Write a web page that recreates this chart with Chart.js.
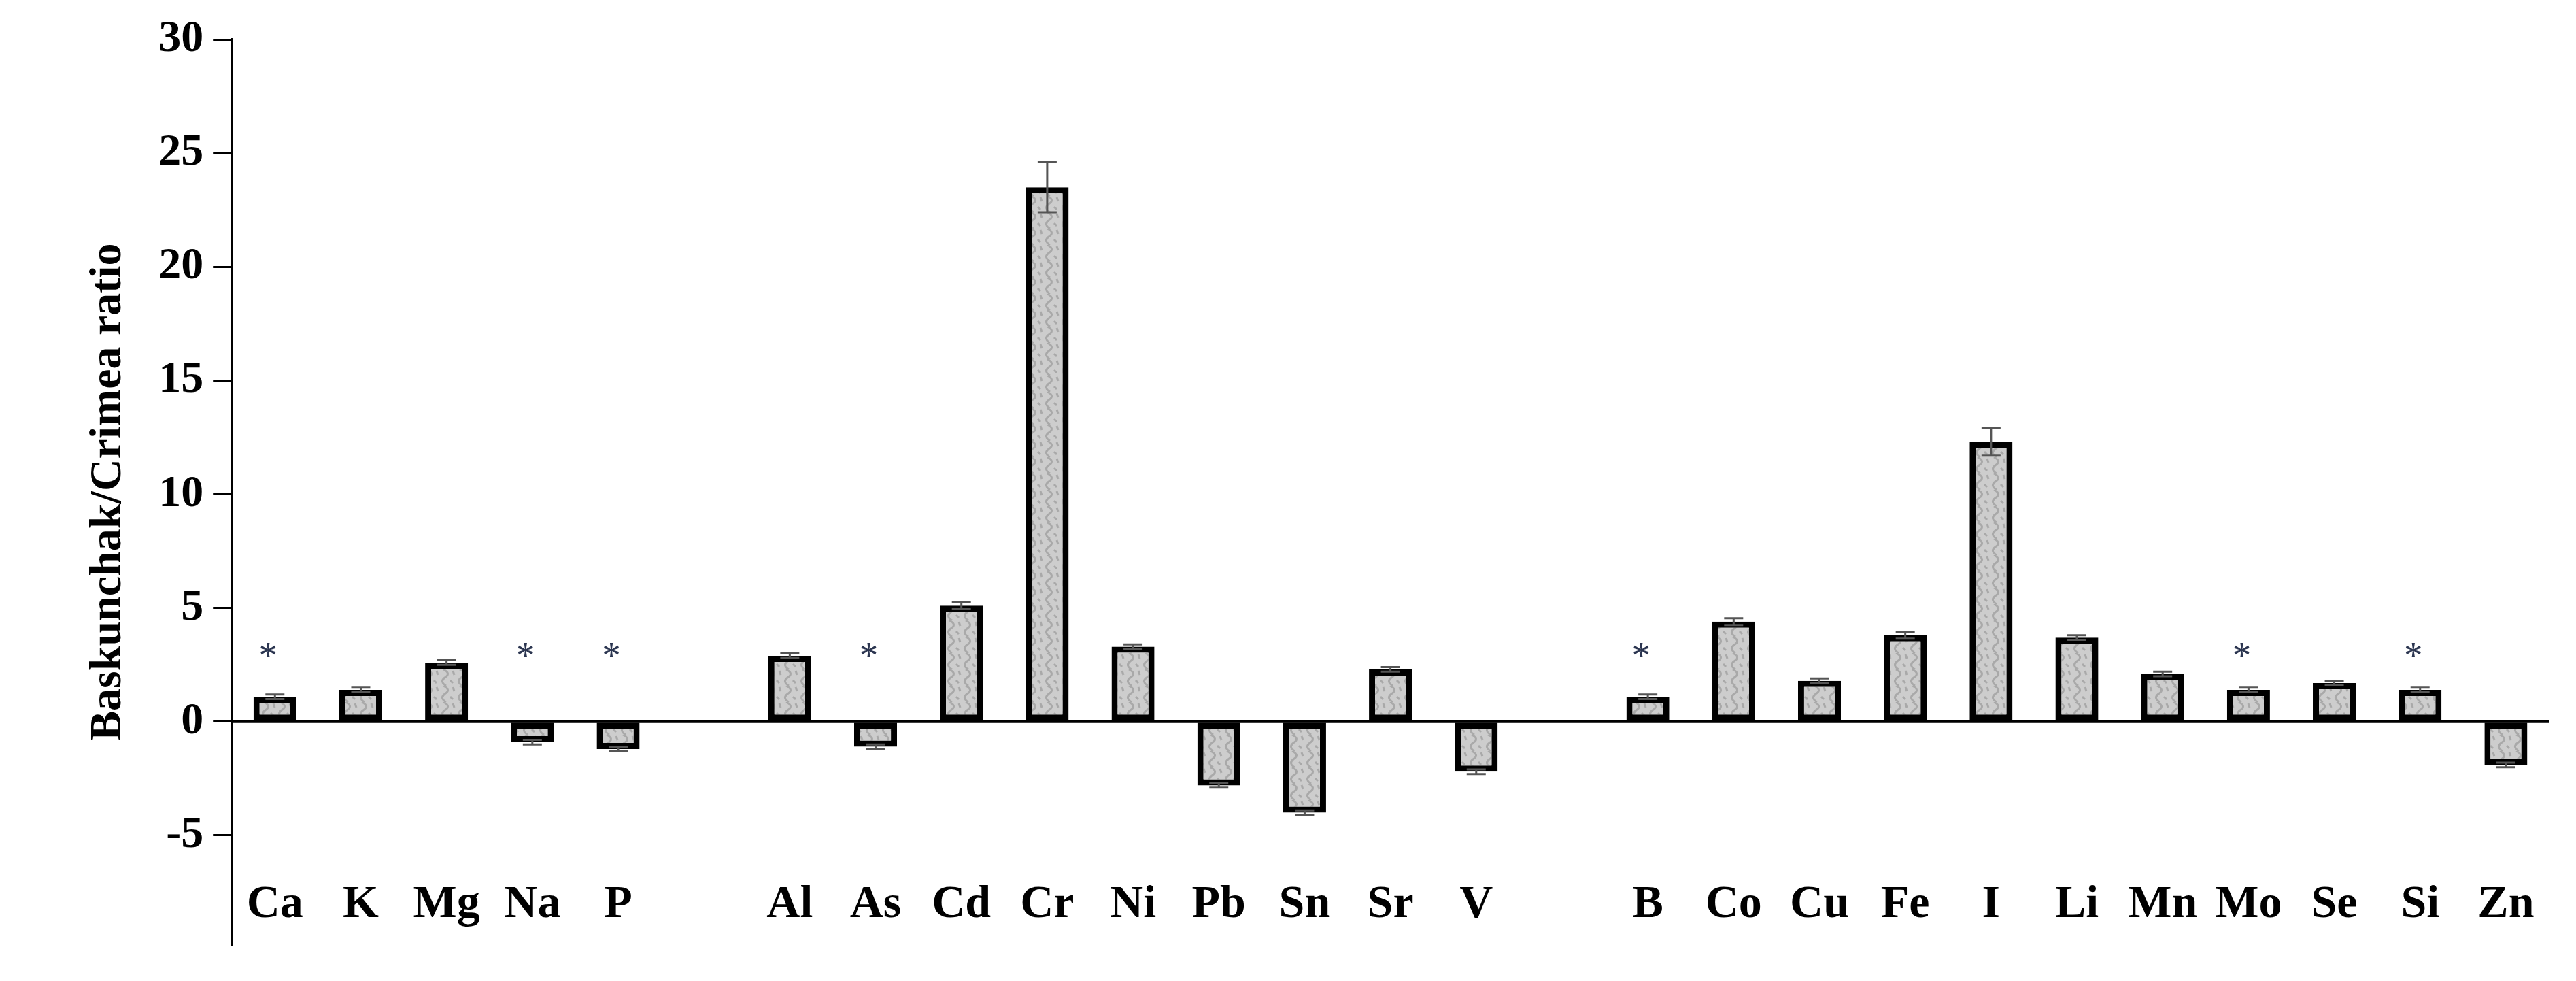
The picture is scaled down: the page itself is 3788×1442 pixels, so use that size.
<!DOCTYPE html>
<html>
<head>
<meta charset="utf-8">
<script src="https://cdn.jsdelivr.net/npm/chart.js@4"></script>
<style>
  html, body { margin: 0; padding: 0; background: #fff; }
  #wrap { width: 3788px; height: 1442px; }
</style>
</head>
<body>
<div id="wrap"><canvas id="myChart"></canvas></div>
<script>
// categories ('' = gap between element groups)
const elements = ['Ca', 'K', 'Mg', 'Na', 'P', '', 'Al', 'As', 'Cd', 'Cr', 'Ni', 'Pb', 'Sn', 'Sr', 'V', '',
  'B', 'Co', 'Cu', 'Fe', 'I', 'Li', 'Mn', 'Mo', 'Se', 'Si', 'Zn'];
const ratios = [1.1, 1.4, 2.6, -0.9, -1.2, null, 2.9, -1.1, 5.1, 23.5, 3.3, -2.8, -4.0, 2.3, -2.2, null,
  1.1, 4.4, 1.8, 3.8, 12.3, 3.7, 2.1, 1.4, 1.7, 1.4, -1.9];
const errors = [0.1, 0.1, 0.1, 0.1, 0.1, null, 0.1, 0.1, 0.15, 1.1, 0.1, 0.1, 0.1, 0.1, 0.1, null,
  0.1, 0.15, 0.1, 0.15, 0.6, 0.1, 0.1, 0.1, 0.1, 0.1, 0.1];
const starred = ['Ca', 'Na', 'P', 'As', 'B', 'Mo', 'Si'];
const yTicks = [-5, 0, 5, 10, 15, 20, 25, 30];

// grainy grey fill like the original
function makePattern() {
  const c = document.createElement('canvas');
  c.width = 24; c.height = 24;
  const g = c.getContext('2d');
  g.fillStyle = '#cdcdcd';
  g.fillRect(0, 0, 24, 24);
  g.strokeStyle = '#a9a9a9';
  g.lineWidth = 3;
  g.beginPath();
  g.moveTo(4, 0); g.quadraticCurveTo(16, 6, 6, 12); g.quadraticCurveTo(-2, 18, 8, 24);
  g.moveTo(18, 2); g.lineTo(20, 8);
  g.moveTo(14, 16); g.lineTo(18, 20);
  g.stroke();
  return g.createPattern(c, 'repeat');
}

const fontFam = '"Liberation Serif", "DejaVu Serif", serif';

const extras = {
  id: 'extras',
  afterDatasetsDraw(chart) {
    const ctx = chart.ctx, x = chart.scales.x, y = chart.scales.y, area = chart.chartArea;
    ctx.save();
    // zero line
    ctx.strokeStyle = '#000';
    ctx.lineWidth = 4;
    ctx.beginPath();
    ctx.moveTo(area.left, y.getPixelForValue(0));
    ctx.lineTo(area.right, y.getPixelForValue(0));
    ctx.stroke();
    // error bars
    ctx.strokeStyle = '#555';
    ctx.lineWidth = 3;
    elements.forEach((el, i) => {
      if (ratios[i] === null) return;
      const px = x.getPixelForValue(i);
      const v = ratios[i], e = errors[i];
      const y1 = y.getPixelForValue(v - e), y2 = y.getPixelForValue(v + e);
      ctx.beginPath();
      ctx.moveTo(px, y1); ctx.lineTo(px, y2);
      ctx.moveTo(px - 14, y1); ctx.lineTo(px + 14, y1);
      ctx.moveTo(px - 14, y2); ctx.lineTo(px + 14, y2);
      ctx.stroke();
    });
    // asterisks
    ctx.fillStyle = '#2b3550';
    ctx.font = '56px ' + fontFam;
    ctx.textAlign = 'center';
    ctx.textBaseline = 'middle';
    starred.forEach(el => {
      const i = elements.indexOf(el);
      ctx.fillText('*', x.getPixelForValue(i) - 10, y.getPixelForValue(3.0) + 8);
    });
    // category labels inside the plot near the bottom
    ctx.fillStyle = '#000';
    ctx.font = 'bold 68px ' + fontFam;
    ctx.textBaseline = 'alphabetic';
    elements.forEach((el, i) => {
      if (el) ctx.fillText(el, x.getPixelForValue(i), area.bottom - 40);
    });
    ctx.restore();
  }
};

const ctx = document.getElementById('myChart').getContext('2d');
const myChart = new Chart(ctx, {
  type: 'bar',
  data: {
    labels: elements,
    datasets: [{
      data: ratios,
      backgroundColor: makePattern(),
      borderColor: '#000',
      borderWidth: 9,
      borderSkipped: false,
      categoryPercentage: 1,
      barPercentage: 0.5
    }]
  },
  options: {
    responsive: true,
    maintainAspectRatio: false,
    animation: false,
    devicePixelRatio: 1,
    layout: { padding: { left: 120, right: 40, top: 58, bottom: 12 } },
    plugins: { legend: { display: false }, tooltip: { enabled: false } },
    scales: {
      x: {
        ticks: { display: false },
        grid: { display: false },
        border: { display: false }
      },
      y: {
        min: -9.8,
        max: 30,
        afterBuildTicks(axis) { axis.ticks = yTicks.map(v => ({ value: v })); },
        ticks: {
          color: '#000',
          padding: 14,
          font: { family: fontFam, size: 66, weight: 'bold' }
        },
        grid: { drawOnChartArea: false, color: '#000', lineWidth: 3, tickLength: 28 },
        border: { color: '#000', width: 4 },
        title: {
          display: true,
          text: 'Baskunchak/Crimea ratio',
          color: '#000',
          padding: { top: 0, bottom: 20 },
          font: { family: fontFam, size: 66, weight: 'bold' }
        }
      }
    }
  },
  plugins: [extras]
});
</script>
</body>
</html>
